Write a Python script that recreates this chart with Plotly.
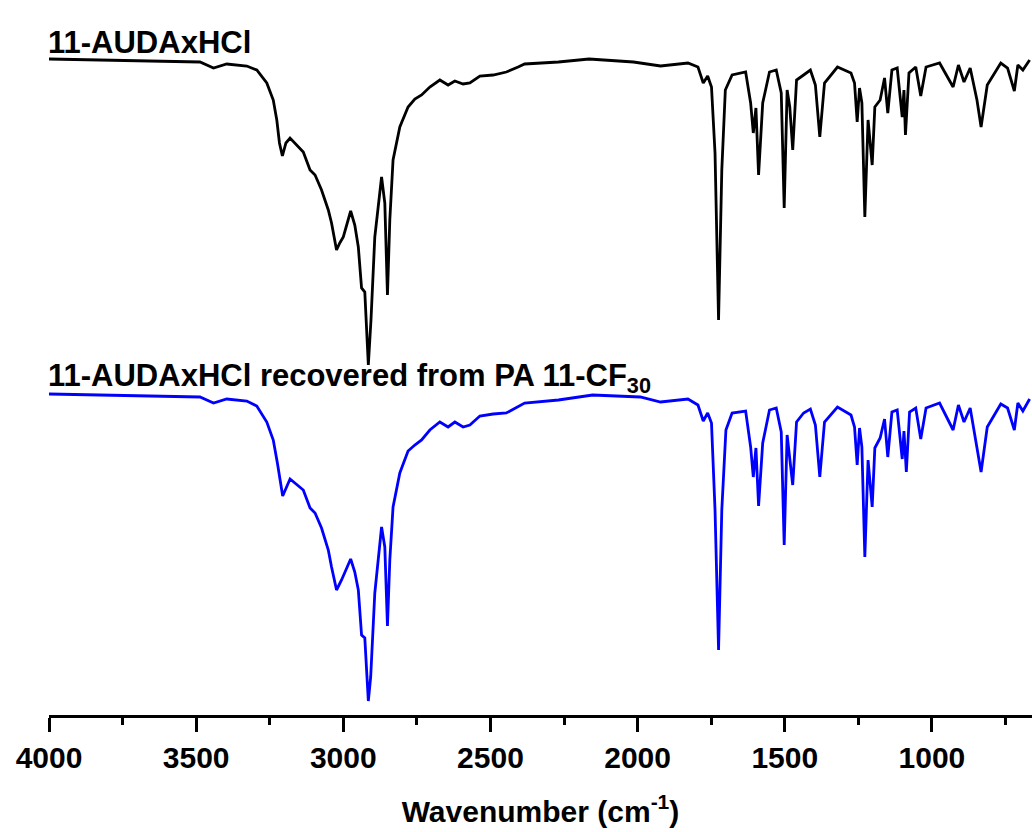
import plotly.graph_objects as go

# Wavenumbers (cm-1) and transmittance (arbitrary units, offset stacked)
black_wn = [4000, 3826, 3656, 3487, 3441, 3396, 3328, 3294, 3260, 3238, 3226, 3217, 3207, 3195, 3181,
            3153, 3136, 3113, 3096, 3074, 3051, 3040, 3023, 3012, 3000, 2975, 2961, 2949, 2938, 2927,
            2915, 2906, 2893, 2870, 2859, 2850, 2842, 2831, 2808, 2780, 2757, 2734, 2706, 2672, 2644,
            2621, 2593, 2570, 2536, 2491, 2446, 2406, 2384, 2269, 2165, 2014, 1922, 1829, 1795, 1777,
            1762, 1749, 1737, 1725, 1714, 1702, 1679, 1633, 1616, 1607, 1598, 1589, 1575, 1552, 1529,
            1512, 1502, 1492, 1483, 1473, 1460, 1436, 1413, 1396, 1381, 1365, 1321, 1275, 1263, 1254,
            1246, 1238, 1228, 1217, 1203, 1194, 1176, 1161, 1150, 1136, 1118, 1101, 1095, 1090, 1078,
            1055, 1038, 1020, 974, 928, 910, 891, 870, 847, 833, 812, 766, 743, 720, 708, 691, 668]
black_t = [656, 655, 654, 653, 647, 651, 649, 645, 632, 615, 595, 572, 559, 572, 577,
           568, 563, 545, 540, 525, 505, 492, 465, 472, 478, 504, 490, 468, 427, 423,
           350, 395, 478, 538, 512, 420, 495, 555, 588, 608, 616, 620, 628, 635, 630,
           634, 631, 632, 639, 640, 643, 648, 651, 653, 656, 653, 649, 652, 648, 632,
           639, 628, 562, 395, 545, 625, 640, 643, 612, 582, 607, 540, 612, 643, 645,
           622, 507, 625, 608, 565, 635, 640, 645, 630, 578, 632, 648, 642, 632, 593,
           627, 612, 498, 595, 550, 608, 615, 637, 602, 645, 647, 598, 625, 580, 642,
           648, 619, 648, 652, 628, 650, 633, 647, 615, 588, 630, 652, 647, 624, 650, 645, 655]

blue_wn = [4000, 3656, 3487, 3441, 3396, 3328, 3294, 3260, 3238, 3224, 3206, 3181, 3153, 3136, 3113,
           3096, 3074, 3051, 3040, 3023, 3006, 2975, 2961, 2949, 2938, 2927, 2915, 2907, 2893, 2870,
           2859, 2850, 2842, 2831, 2808, 2780, 2757, 2734, 2706, 2672, 2644, 2621, 2593, 2570, 2536,
           2491, 2446, 2406, 2384, 2269, 2153, 1991, 1922, 1829, 1795, 1777, 1762, 1749, 1737, 1725,
           1714, 1700, 1679, 1633, 1616, 1607, 1598, 1589, 1575, 1552, 1529, 1512, 1502, 1492, 1483,
           1473, 1460, 1436, 1413, 1396, 1381, 1365, 1321, 1275, 1263, 1254, 1246, 1238, 1228, 1217,
           1203, 1194, 1176, 1161, 1150, 1136, 1118, 1101, 1095, 1087, 1076, 1055, 1038, 1020, 974,
           928, 910, 891, 870, 847, 833, 812, 766, 743, 720, 708, 691, 668]
blue_t = [321, 319, 318, 312, 316, 314, 309, 293, 275, 252, 219, 236, 229, 225, 207,
          202, 187, 165, 148, 125, 135, 156, 143, 125, 80, 77, 14, 38, 122, 188,
          168, 89, 155, 208, 242, 264, 270, 275, 285, 293, 288, 293, 288, 290, 299,
          301, 302, 309, 312, 315, 320, 318, 313, 316, 310, 294, 302, 292, 205, 65,
          205, 285, 302, 304, 268, 238, 267, 209, 272, 305, 307, 283, 170, 280, 258,
          230, 293, 302, 306, 290, 238, 293, 308, 300, 288, 250, 287, 268, 158, 255,
          208, 267, 277, 296, 258, 303, 305, 256, 284, 243, 303, 307, 276, 307, 312,
          285, 310, 293, 307, 267, 243, 288, 311, 307, 285, 312, 304, 316]

x_ticks = [4000, 3500, 3000, 2500, 2000, 1500, 1000]
label_black = "<b>11-AUDAxHCl</b>"
label_blue = "<b>11-AUDAxHCl recovered from PA 11-CF<sub>30</sub></b>"

FONT = "Liberation Sans, Arial, sans-serif"

fig = go.Figure()
fig.add_trace(go.Scatter(x=black_wn, y=black_t, mode="lines",
                         line=dict(color="#000000", width=2.8), showlegend=False))
fig.add_trace(go.Scatter(x=blue_wn, y=blue_t, mode="lines",
                         line=dict(color="#0000ff", width=2.8), showlegend=False))

fig.add_annotation(x=4000, y=673, xref="x", yref="y", text=label_black, showarrow=False,
                   xanchor="left", yanchor="middle", xshift=-3,
                   font=dict(family=FONT, size=31, color="black"))
fig.add_annotation(x=4000, y=337, xref="x", yref="y", text=label_blue, showarrow=False,
                   xanchor="left", yanchor="middle", xshift=-3,
                   font=dict(family=FONT, size=31, color="black"))

fig.update_layout(
    width=1032, height=832,
    margin=dict(l=49, r=0, t=0, b=117),
    plot_bgcolor="white", paper_bgcolor="white",
    font=dict(family=FONT, color="black"),
    xaxis=dict(range=[4000, 660], showgrid=False, zeroline=False,
               showline=True, linecolor="black", linewidth=3,
               ticks="outside", ticklen=14, tickwidth=3, tickcolor="black",
               tickmode="array", tickvals=x_ticks, ticktext=["<b>%d</b>" % v for v in x_ticks],
               tickfont=dict(family=FONT, size=30, color="black"),
               minor=dict(ticks="outside", ticklen=7, tickwidth=3, tickcolor="black", dtick=250, tick0=4000),
               title=dict(text="<b>Wavenumber (cm<sup>-1</sup>)</b>",
                          font=dict(family=FONT, size=30, color="black"), standoff=28)),
    yaxis=dict(range=[0, 715], visible=False),
)

fig.write_html("out.html")
